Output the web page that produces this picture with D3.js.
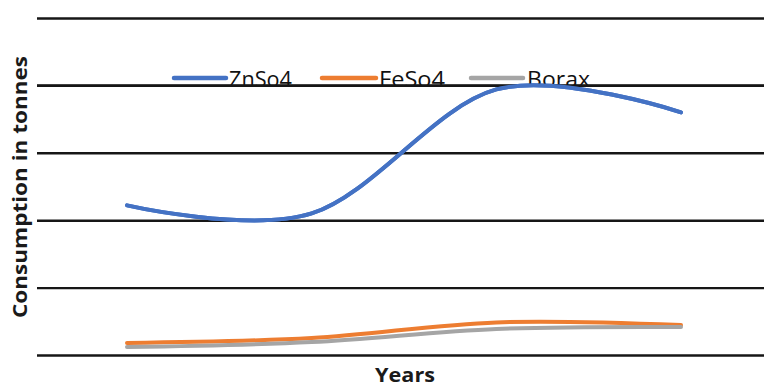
<!DOCTYPE html>
<html>
<head>
<meta charset="utf-8">
<script src="https://cdn.jsdelivr.net/npm/d3@7"></script>
<style>
  html, body { margin: 0; padding: 0; background: #fff; }
  svg { display: block; }
</style>
</head>
<body>
<svg id="chart" width="764" height="388"></svg>
<script>
// Yearly consumption (tonnes) of micronutrient fertilisers
const categories = ["Year 1", "Year 2", "Year 3", "Year 4"];
const seriesNames = ["ZnSo4", "FeSo4", "Borax"];
const znso4 = [1110, 1050, 1970, 1800];
const feso4 = [89, 126, 242, 222];
const borax = [59, 96, 193, 208];
const gridValues = [0, 500, 1000, 1500, 2000, 2500];

const colors = ["#4472C4", "#ED7D31", "#A5A5A5"];
const series = [znso4, feso4, borax];

const svg = d3.select("#chart");
const fontFamily = "'Open Sans', 'Liberation Sans', sans-serif";

const gridLeft = 37, gridRight = 764;
const x = d3.scalePoint().domain(categories).range([127, 681]);
const y = d3.scaleLinear().domain([0, 2500]).range([355, 18]);

// Horizontal gridlines
const grid = svg.append("g").attr("transform", `translate(${gridLeft},0)`)
  .call(d3.axisLeft(y).tickValues(gridValues).tickSize(-(gridRight - gridLeft)).tickFormat(""));
grid.select(".domain").remove();
grid.selectAll(".tick line").attr("stroke", "#161616").attr("stroke-width", 2.4);

// Smoothed series lines
const line = d3.line()
  .x((d, i) => x(categories[i]))
  .y(d => y(d))
  .curve(d3.curveCardinal.tension(0));

svg.append("g").selectAll("path")
  .data(series)
  .join("path")
  .attr("d", d => line(d))
  .attr("fill", "none")
  .attr("stroke", (d, i) => colors[i])
  .attr("stroke-width", 4)
  .attr("stroke-linecap", "round");

// Legend (its text sits right on the second gridline, bottom clipped by it)
svg.append("defs").append("clipPath").attr("id", "legendClip")
  .append("rect").attr("x", 0).attr("y", 0).attr("width", 764).attr("height", y(2000) - 0.5);

const legendItems = [
  { x1: 174, x2: 226, tx: 229, tw: 63 },
  { x1: 322, x2: 376, tx: 379, tw: 66 },
  { x1: 471, x2: 523, tx: 527, tw: 63 }
];
const legend = svg.append("g");
legend.selectAll("line")
  .data(legendItems)
  .join("line")
  .attr("x1", d => d.x1).attr("x2", d => d.x2)
  .attr("y1", 78).attr("y2", 78)
  .attr("stroke", (d, i) => colors[i])
  .attr("stroke-width", 4.5)
  .attr("stroke-linecap", "round");
legend.append("g").attr("clip-path", "url(#legendClip)")
  .selectAll("text")
  .data(legendItems)
  .join("text")
  .attr("x", d => d.tx)
  .attr("y", 87)
  .attr("textLength", d => d.tw)
  .attr("lengthAdjust", "spacingAndGlyphs")
  .attr("font-family", fontFamily)
  .attr("font-size", 21)
  .attr("fill", "#111")
  .text((d, i) => seriesNames[i]);

// Redraw the gridline at the legend's level so it sits over the clipped text
svg.append("line")
  .attr("x1", gridLeft).attr("x2", gridRight)
  .attr("y1", y(2000)).attr("y2", y(2000))
  .attr("stroke", "#161616").attr("stroke-width", 2.4);
svg.append("path")
  .attr("d", line(znso4))
  .attr("fill", "none")
  .attr("stroke", colors[0])
  .attr("stroke-width", 4)
  .attr("stroke-linecap", "round");

// Axis titles
svg.append("text")
  .attr("x", 405).attr("y", 382)
  .attr("text-anchor", "middle")
  .attr("textLength", 60).attr("lengthAdjust", "spacingAndGlyphs")
  .attr("font-family", fontFamily).attr("font-weight", "bold")
  .attr("font-size", 19).attr("fill", "#1a1a1a")
  .text("Years");

svg.append("text")
  .attr("transform", "translate(27,187) rotate(-90)")
  .attr("text-anchor", "middle")
  .attr("textLength", 262).attr("lengthAdjust", "spacingAndGlyphs")
  .attr("font-family", fontFamily).attr("font-weight", "bold")
  .attr("font-size", 20).attr("fill", "#1a1a1a")
  .text("Consumption in tonnes");
</script>
</body>
</html>
